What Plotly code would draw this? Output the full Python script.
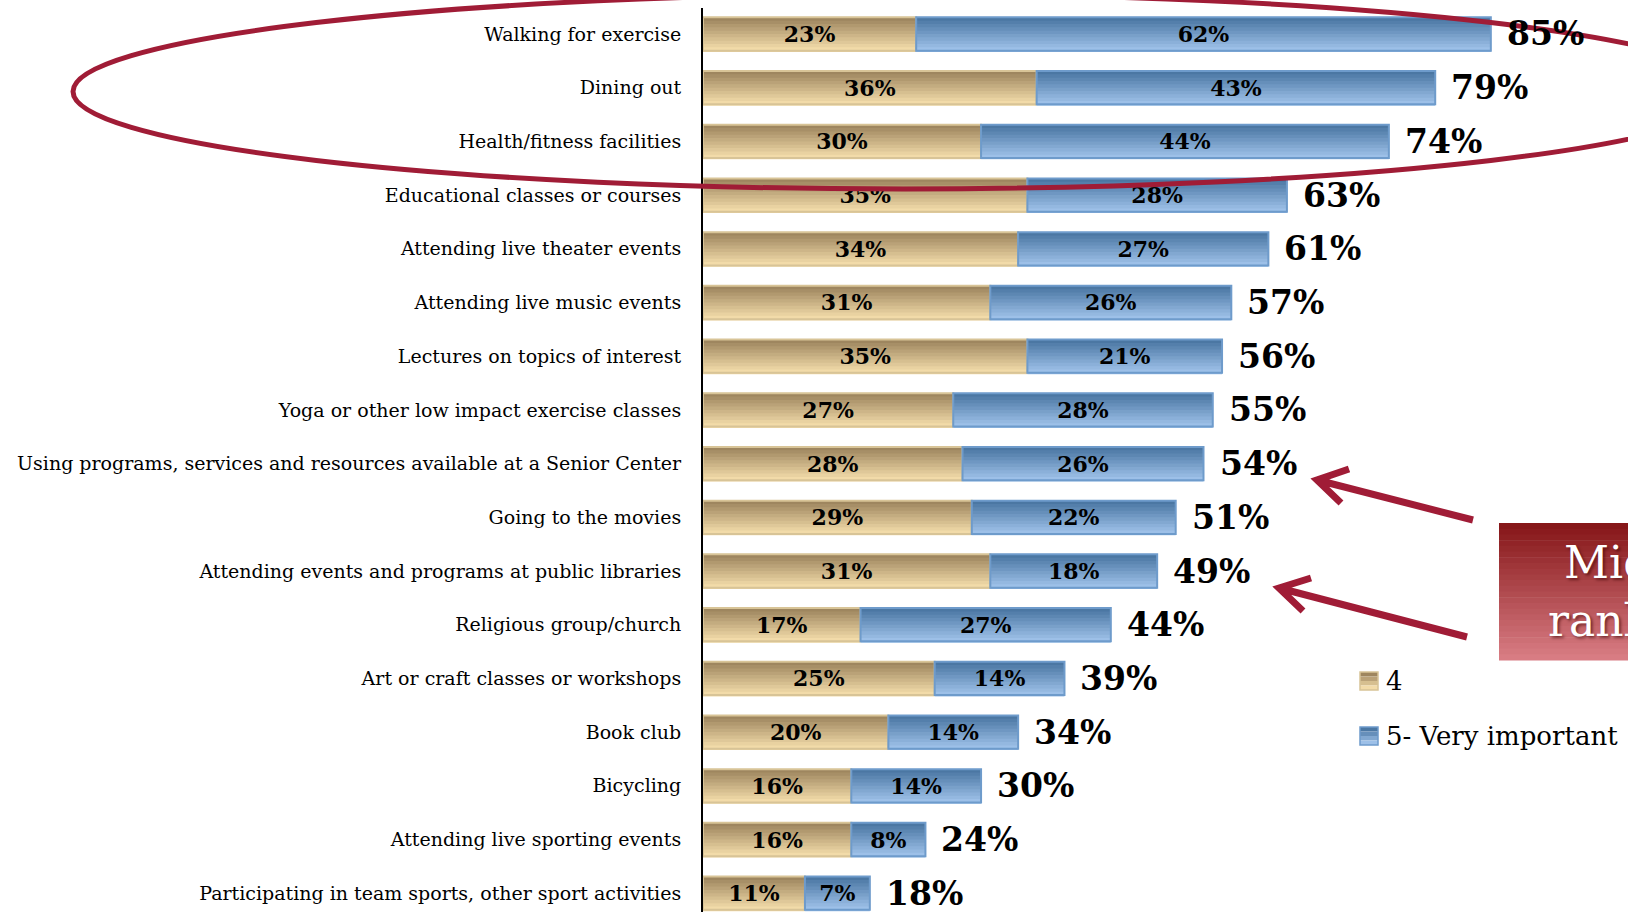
import plotly.graph_objects as go

# ---- data ----
activities = [
    "Walking for exercise",
    "Dining out",
    "Health/fitness facilities",
    "Educational classes or courses",
    "Attending live theater events",
    "Attending live music events",
    "Lectures on topics of interest",
    "Yoga or other low impact exercise classes",
    "Using programs, services and resources available at a Senior Center",
    "Going to the movies",
    "Attending events and programs at public libraries",
    "Religious group/church",
    "Art or craft classes or workshops",
    "Book club",
    "Bicycling",
    "Attending live sporting events",
    "Participating in team sports, other sport activities",
]
pct_4 = [23, 36, 30, 35, 34, 31, 35, 27, 28, 29, 31, 17, 25, 20, 16, 16, 11]
pct_5 = [62, 43, 44, 28, 27, 26, 21, 28, 26, 22, 18, 27, 14, 14, 14, 8, 7]
pct_total = [85, 79, 74, 63, 61, 57, 56, 55, 54, 51, 49, 44, 39, 34, 30, 24, 18]
series_names = ["4", "5- Very important"]

W, H = 1628, 912
L, T = 703, 8
PW, PH = W - L, H - T
FONT = "DejaVu Serif"
RED = "#A01C36"

rows = list(range(len(activities)))
BW = 0.62
NSTRIP = 10


def hexrgb(h):
    h = h.lstrip("#")
    return [int(h[i:i + 2], 16) for i in (0, 2, 4)]


def mix(a, b, t):
    a, b = hexrgb(a), hexrgb(b)
    return "rgb(%d,%d,%d)" % tuple(round(a[i] + (b[i] - a[i]) * t) for i in range(3))


def px(x, y):
    # pixel position -> paper coords
    return (x - L) / PW, 1 - (y - T) / PH


fig = go.Figure()
shapes = []

series = [
    (pct_4, [0] * len(pct_4), "#9E865F", "#F2DBA9", "#D8C497"),
    (pct_5, pct_4, "#4B77A3", "#9DC0E8", "#6E9BCB"),
]
for s, (vals, base, top_c, bot_c, edge_c) in enumerate(series):
    step = BW / NSTRIP
    for k in range(NSTRIP):
        fig.add_trace(go.Bar(
            x=vals, y=rows, base=base, orientation="h",
            width=step * 1.4, offset=-BW / 2 + k * step,
            marker=dict(color=mix(top_c, bot_c, k / (NSTRIP - 1)), line=dict(width=0)),
            showlegend=False, hoverinfo="skip",
        ))
    # outline + labels
    fig.add_trace(go.Bar(
        x=vals, y=rows, base=base, orientation="h", width=BW, offset=-BW / 2,
        name=series_names[s],
        marker=dict(color="rgba(0,0,0,0)", line=dict(color=edge_c, width=2)),
        text=[f"{v}%" for v in vals], textposition="inside", insidetextanchor="middle",
        textangle=0, constraintext="none",
        textfont=dict(family=FONT, size=22, color="black", weight="bold"),
        showlegend=False, hoverinfo="skip",
    ))

    # legend key (drawn by hand so it can sit near the right edge)
    ky = 672 + 55 * s
    for k in range(4):
        xa, ya = px(1360, ky + 4.5 * k)
        xb, yb = px(1378, ky + 4.5 * (k + 1))
        shapes.append(dict(type="rect", xref="paper", yref="paper", x0=xa, x1=xb, y0=yb, y1=ya,
                           line=dict(width=0), fillcolor=mix(top_c, bot_c, k / 3)))
    xa, ya = px(1360, ky)
    xb, yb = px(1378, ky + 18)
    shapes.append(dict(type="rect", xref="paper", yref="paper", x0=xa, x1=xb, y0=yb, y1=ya,
                       line=dict(color=edge_c, width=1.5)))
    tx, ty = px(1384, ky + 9)
    fig.add_annotation(xref="paper", yref="paper", x=tx, y=ty, text=series_names[s],
                       showarrow=False, xanchor="left", yanchor="middle",
                       font=dict(family=FONT, size=26, color="black"))

for i, t in enumerate(pct_total):
    fig.add_annotation(x=t, y=i, text=f"{t}%", showarrow=False, xanchor="left",
                       xshift=14, font=dict(family=FONT, size=33, color="black", weight="bold"))

# ellipse around the top three
x0, y0 = px(73, -6)
x1, y1 = px(1734, 189)
shapes.append(dict(type="circle", xref="paper", yref="paper", x0=x0, y0=y1, x1=x1, y1=y0,
                   line=dict(color=RED, width=5)))


def arrow(tail, tip, a1, a2):
    pts = [px(*p) for p in (tail, tip, a1, a2)]
    (tx, ty), (hx, hy), (ux, uy), (lx, ly) = pts
    path = f"M {tx},{ty} L {hx},{hy} M {ux},{uy} L {hx},{hy} L {lx},{ly}"
    return dict(type="path", xref="paper", yref="paper", path=path,
                line=dict(color=RED, width=7))


shapes.append(arrow((1473, 520), (1317, 480), (1349, 469), (1341, 503)))
shapes.append(arrow((1467, 637), (1279, 588), (1311, 578), (1303, 611)))

# red gradient box (cut off at right edge)
bx0, bx1, by0, by1 = 1499, 1660, 523, 660
nb = 24
for k in range(nb):
    ya = by0 + (by1 - by0) * k / nb
    yb = by0 + (by1 - by0) * (k + 1) / nb + 0.6
    xa, ya_p = px(bx0, ya)
    xb, yb_p = px(bx1, yb)
    shapes.append(dict(type="rect", xref="paper", yref="paper", x0=xa, x1=xb,
                       y0=yb_p, y1=ya_p, line=dict(width=0),
                       fillcolor=mix("#861719", "#D87C83", k / (nb - 1))))

fig.update_layout(shapes=shapes)

for txt, xx, yy in [("Middle", 1562, 580), ("ranked", 1546, 638)]:
    ax_, ay_ = px(xx, yy)
    fig.add_annotation(xref="paper", yref="paper", x=ax_, y=ay_, text=txt, showarrow=False,
                       xanchor="left", yanchor="bottom", yshift=-10,
                       font=dict(family=FONT, size=44, color="white",
                                 shadow="2px 2px 3px rgba(60,0,0,0.6)"))

fig.update_layout(
    width=W, height=H, autosize=False,
    margin=dict(l=L, r=0, t=T, b=0),
    paper_bgcolor="white", plot_bgcolor="white",
    barmode="overlay", showlegend=False,
    font=dict(family=FONT, color="black"),
    xaxis=dict(visible=False, range=[0, 99.8], fixedrange=True),
    yaxis=dict(range=[16.35, -0.484], tickmode="array", tickvals=rows, ticktext=activities,
               showline=True, linecolor="black", linewidth=2, showgrid=False, zeroline=False,
               ticks="", ticklabelstandoff=16, fixedrange=True,
               tickfont=dict(family=FONT, size=19, color="black")),
)

fig.write_html("out.html", config={"displayModeBar": False, "responsive": False},
               post_script="document.body.style.margin='0';document.body.style.overflow='hidden';")
